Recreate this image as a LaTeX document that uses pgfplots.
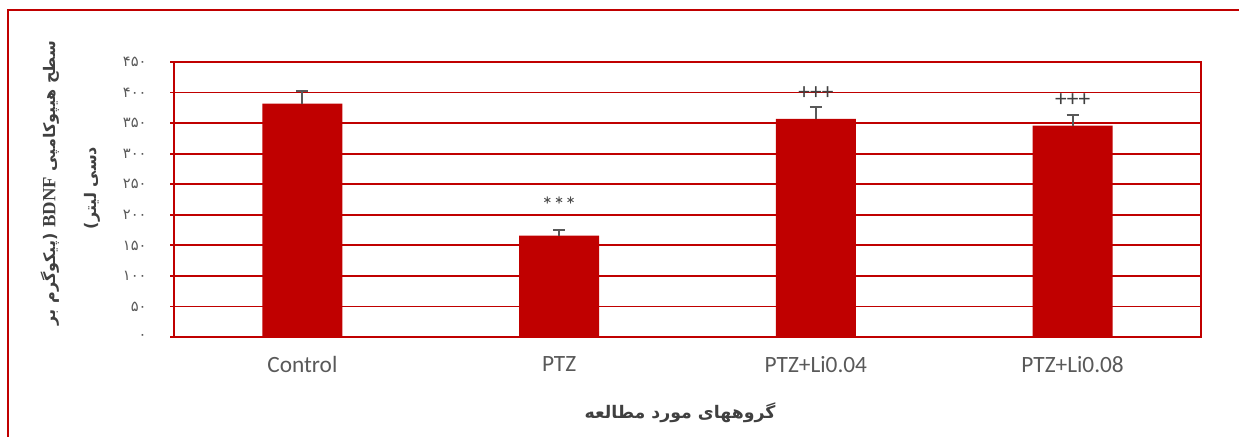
\documentclass[border=0pt]{standalone}
\usepackage{fontspec}
\usepackage{pgfplots}
\pgfplotsset{compat=1.18}
\setmainfont{Carlito}
\newfontfamily\arabicfont[Script=Arabic]{DejaVu Sans}
\newfontfamily\arabicbold[Script=Arabic]{DejaVu Sans Bold}
\newfontfamily\serifbold{Liberation Serif Bold}
\TeXXeTstate=1
\definecolor{barred}{HTML}{C00000}
\definecolor{txtgray}{HTML}{595959}
\definecolor{lblgray}{HTML}{404040}
\begin{document}
\begin{tikzpicture}[x=0.75pt,y=0.75pt]
\useasboundingbox (0,0) rectangle (1239,436);
\draw[barred, line width=1.3pt] (8,-20) -- (8,426) -- (1260,426);
\begin{axis}[
  at={(130.5pt,74.25pt)}, anchor=south west,
  scale only axis, width=770.25pt, height=206.25pt,
  xmin=-0.5, xmax=3.5, ymin=0, ymax=450,
  xtick=data, xticklabels={Control,PTZ,PTZ+Li0.04,PTZ+Li0.08},
  ytick={0,50,...,450},
  yticklabels={۰,۵۰,۱۰۰,۱۵۰,۲۰۰,۲۵۰,۳۰۰,۳۵۰,۴۰۰,۴۵۰},
  xticklabel style={font=\fontsize{17.5}{20}\selectfont, text=txtgray, yshift=-8pt},
  yticklabel style={font=\arabicfont\fontsize{11}{13}\selectfont, text=txtgray, xshift=-14pt},
  x tick style={draw=none},
  y tick style={draw=barred, line width=1.3pt},
  tick align=outside, major tick length=3pt,
  ytick pos=left,
  ymajorgrids, grid style={barred, line width=1.3pt},
  axis line style={barred, line width=1.3pt},
  ybar, bar width=60pt,
  clip=false,
]
\addplot[fill=barred, draw=none,
  error bars/.cd, y dir=plus, y explicit,
  error bar style={txtgray, line width=1.5pt},
  error mark options={rotate=90, mark size=4.5pt, line width=1.5pt, txtgray}]
  coordinates {(0,382) +- (0,20) (1,166) +- (0,8.5) (2,357) +- (0,19) (3,346) +- (0,18)};
\node[font=\fontsize{17.5}{20}\selectfont, text=lblgray] at (axis cs:1,216) {***};
\node[font=\fontsize{17.5}{20}\selectfont, text=lblgray] at (axis cs:2,399) {+++};
\node[font=\fontsize{17.5}{20}\selectfont, text=lblgray] at (axis cs:3,387) {+++};
\end{axis}
\node[rotate=90, text=lblgray, font=\arabicbold\fontsize{12}{14}\selectfont] at (50,253)
  {\beginR سطح هیپوکامپی \beginL{\serifbold\fontsize{14}{16}\selectfont BDNF}\endL{} (پیکوگرم بر\endR};
\node[rotate=90, text=lblgray, font=\arabicbold\fontsize{12}{14}\selectfont] at (92,248)
  {\beginR دسی لیتر)\endR};
\node[text=lblgray, font=\arabicbold\fontsize{13}{15}\selectfont] at (680,23)
  {\beginR گروههای مورد مطالعه\endR};
\end{tikzpicture}
\end{document}
